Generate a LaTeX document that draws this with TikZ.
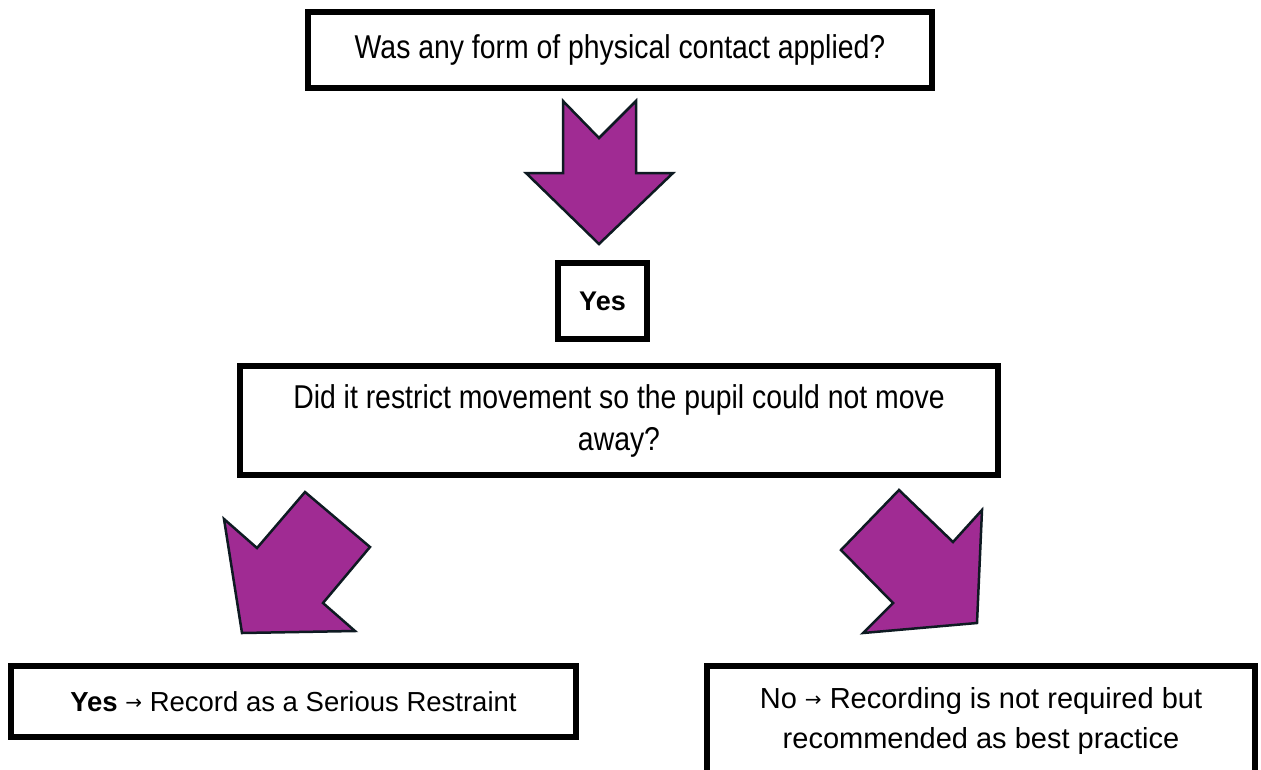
\documentclass[tikz,border=0pt]{standalone}
\usepackage{fontspec}
\setmainfont{Liberation Sans}
\newfontfamily\narrowfont[FakeStretch=0.86]{Liberation Sans}
\newfontfamily\arrowfont{DejaVu Sans}
\definecolor{arrowpurple}{HTML}{A02B93}
\definecolor{arrowline}{HTML}{0E1A22}
\newcommand{\smallarrow}{\raisebox{1.5pt}{\arrowfont\fontsize{20}{20}\selectfont →}}
\begin{document}
\begin{tikzpicture}[x=1pt,y=-1pt,
  box/.style={draw=black, line width=6pt, fill=white, inner sep=0pt, align=center, anchor=center},
  bigarrow/.style={fill=arrowpurple, draw=arrowline, line width=2.5pt, line join=miter},
  qtext/.style={font=\narrowfont\fontsize{33}{42}\selectfont},
  atext/.style={font=\fontsize{27.5}{40}\selectfont}]
\useasboundingbox (0,0) rectangle (1261,769);
% boxes
\node[box, minimum width=624pt, minimum height=76pt, qtext] (q1) at (620,50) {Was any form of physical contact applied?};
\node[box, minimum width=89pt, minimum height=76pt, font=\bfseries\fontsize{27}{30}\selectfont] (yes) at (602.5,301) {Yes};
\node[box, minimum width=758pt, minimum height=109pt, qtext] (q2) at (619,420.5) {Did it restrict movement so the pupil could not move\\away?};
\node[box, minimum width=565pt, minimum height=71pt, atext] (ans1) at (293.5,701.5) {\textbf{Yes} \smallarrow{} Record as a Serious Restraint};
\node[box, minimum width=548pt, minimum height=109pt, atext, font=\fontsize{29}{40}\selectfont] (ans2) at (981,720.5) {No \smallarrow{} Recording is not required but\\recommended as best practice};
% block arrows
\draw[bigarrow] (563,101) -- (599,138) -- (636,101) -- (636,173) -- (673,173) -- (599,244) -- (526,173) -- (563,173) -- cycle;
\draw[bigarrow] (305,492) -- (370,547) -- (323,603) -- (355,631) -- (242,633) -- (224,519) -- (257,548) -- cycle;
\draw[bigarrow] (899,490) -- (953,542) -- (982,510) -- (977,623) -- (863,633) -- (893,603) -- (841,550) -- cycle;
\end{tikzpicture}
\end{document}
